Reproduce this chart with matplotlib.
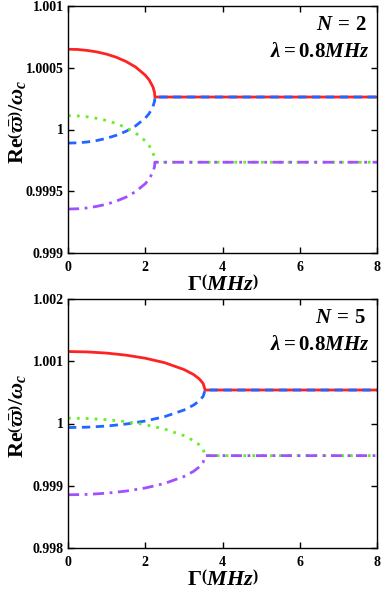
import matplotlib
matplotlib.use("Agg")
import matplotlib.pyplot as plt

plt.rcParams['font.family'] = 'Liberation Serif'
plt.rcParams['font.weight'] = 'bold'
plt.rcParams['mathtext.fontset'] = 'custom'
plt.rcParams['mathtext.rm'] = 'Liberation Serif:bold'
plt.rcParams['mathtext.bf'] = 'Liberation Serif:bold'
plt.rcParams['mathtext.it'] = 'Liberation Serif:italic:bold'

# ---- data: N = 2 ----
gamma_n2 = [0, 0.25, 0.5, 0.75, 1.0, 1.25, 1.5, 1.75, 2.0, 2.1, 2.2, 2.24, 2.25, 8]
red_n2 = [1.000650, 1.000648, 1.000640, 1.000628, 1.000610, 1.000585, 1.000551,
          1.000506, 1.000440, 1.000402, 1.000344, 1.000299, 1.000263, 1.000263]
blue_n2 = [0.999890, 0.999892, 0.999899, 0.999911, 0.999929, 0.999953, 0.999985,
           1.000029, 1.000092, 1.000129, 1.000185, 1.000228, 1.000263, 1.000263]
green_n2 = [1.000112, 1.000110, 1.000103, 1.000090, 1.000073, 1.000048, 1.000016,
            0.999972, 0.999908, 0.999870, 0.999814, 0.999771, 0.999735, 0.999735]
purple_n2 = [0.999356, 0.999358, 0.999365, 0.999378, 0.999395, 0.999420, 0.999452,
             0.999497, 0.999561, 0.999599, 0.999656, 0.999699, 0.999735, 0.999735]

# ---- data: N = 5 ----
gamma_n5 = [0, 0.5, 1.0, 1.5, 2.0, 2.5, 3.0, 3.25, 3.4, 3.5, 3.55, 8]
red_n5 = [1.001156, 1.001150, 1.001131, 1.001098, 1.001049, 1.000977, 1.000868,
          1.000787, 1.000716, 1.000641, 1.000538, 1.000538]
blue_n5 = [0.999935, 0.999941, 0.999959, 0.999991, 1.000040, 1.000110, 1.000216,
           1.000295, 1.000365, 1.000437, 1.000538, 1.000538]
green_n5 = [1.000086, 1.000080, 1.000062, 1.000030, 0.999981, 0.999911, 0.999806,
            0.999726, 0.999657, 0.999585, 0.999484, 0.999484]
purple_n5 = [0.998855, 0.998861, 0.998880, 0.998914, 0.998964, 0.999037, 0.999148,
             0.999231, 0.999303, 0.999379, 0.999484, 0.999484]

xticks = [0, 2, 4, 6, 8]
xticklabels = ['0', '2', '4', '6', '8']
yticks_n2 = [0.999, 0.9995, 1.0, 1.0005, 1.001]
yticklabels_n2 = ['0.999', '0.9995', '1', '1.0005', '1.001']
yticks_n5 = [0.998, 0.999, 1.0, 1.001, 1.002]
yticklabels_n5 = ['0.998', '0.999', '1', '1.001', '1.002']

RED = '#ff2222'
BLUE = '#2266ff'
GREEN = '#66ee22'
PURPLE = '#a050ff'

fig = plt.figure(figsize=(3.92, 6.0), dpi=100)
ax1 = fig.add_axes([68/392, 1-253/600, (377-68)/392, (253-6)/600])
ax2 = fig.add_axes([68/392, 1-548/600, (377-68)/392, (548-299)/600])

panels = [
    (ax1, gamma_n2, red_n2, blue_n2, green_n2, purple_n2, yticks_n2, yticklabels_n2, '2'),
    (ax2, gamma_n5, red_n5, blue_n5, green_n5, purple_n5, yticks_n5, yticklabels_n5, '5'),
]

for ax, g, r, b, gr, p, yt, ytl, n in panels:
    ax.plot(g, r, color=RED, lw=2.0, ls='-')
    ax.plot(g, b, color=BLUE, lw=2.0, ls=(0, (3, 2)))
    ax.plot(g, gr, color=GREEN, lw=2.0, ls=(0, (1, 2.2)))
    ax.plot(g, p, color=PURPLE, lw=2.0, ls=(0, (4, 2, 1, 2)))
    ax.set_xlim(0, 8)
    ax.set_ylim(yt[0], yt[-1])
    ax.set_xticks(xticks)
    ax.set_xticklabels(xticklabels)
    ax.set_yticks(yt)
    ax.set_yticklabels(ytl)
    ax.tick_params(direction='in', top=True, right=True, length=4, width=1,
                   labelsize=10, pad=3)
    ax.tick_params(axis='x', pad=6)
    for lab in ax.get_xticklabels() + ax.get_yticklabels():
        lab.set_fontweight('bold')
    for sp in ax.spines.values():
        sp.set_linewidth(1.0)
    ax.set_xlabel(r'$\Gamma\left(\mathit{MHz}\right)$', fontsize=16)
    ax.xaxis.set_label_coords(0.5, -0.09)
    ax.set_ylabel(r'$\mathrm{Re}\left(\bar{\varpi}\right)/\mathit{\omega}_{c}$', fontsize=16,
                  va='center')
    ax.yaxis.set_label_coords(-0.165, 0.53)
    ax.text(0.965, 0.925, r'$\mathit{N}\,=\,' + n + '$', transform=ax.transAxes,
            ha='right', va='center', fontsize=15)
    ax.text(0.975, 0.815, r'$\mathit{\lambda}=0.8\mathit{MHz}$', transform=ax.transAxes,
            ha='right', va='center', fontsize=15)

fig.savefig('out.png', dpi=100)
